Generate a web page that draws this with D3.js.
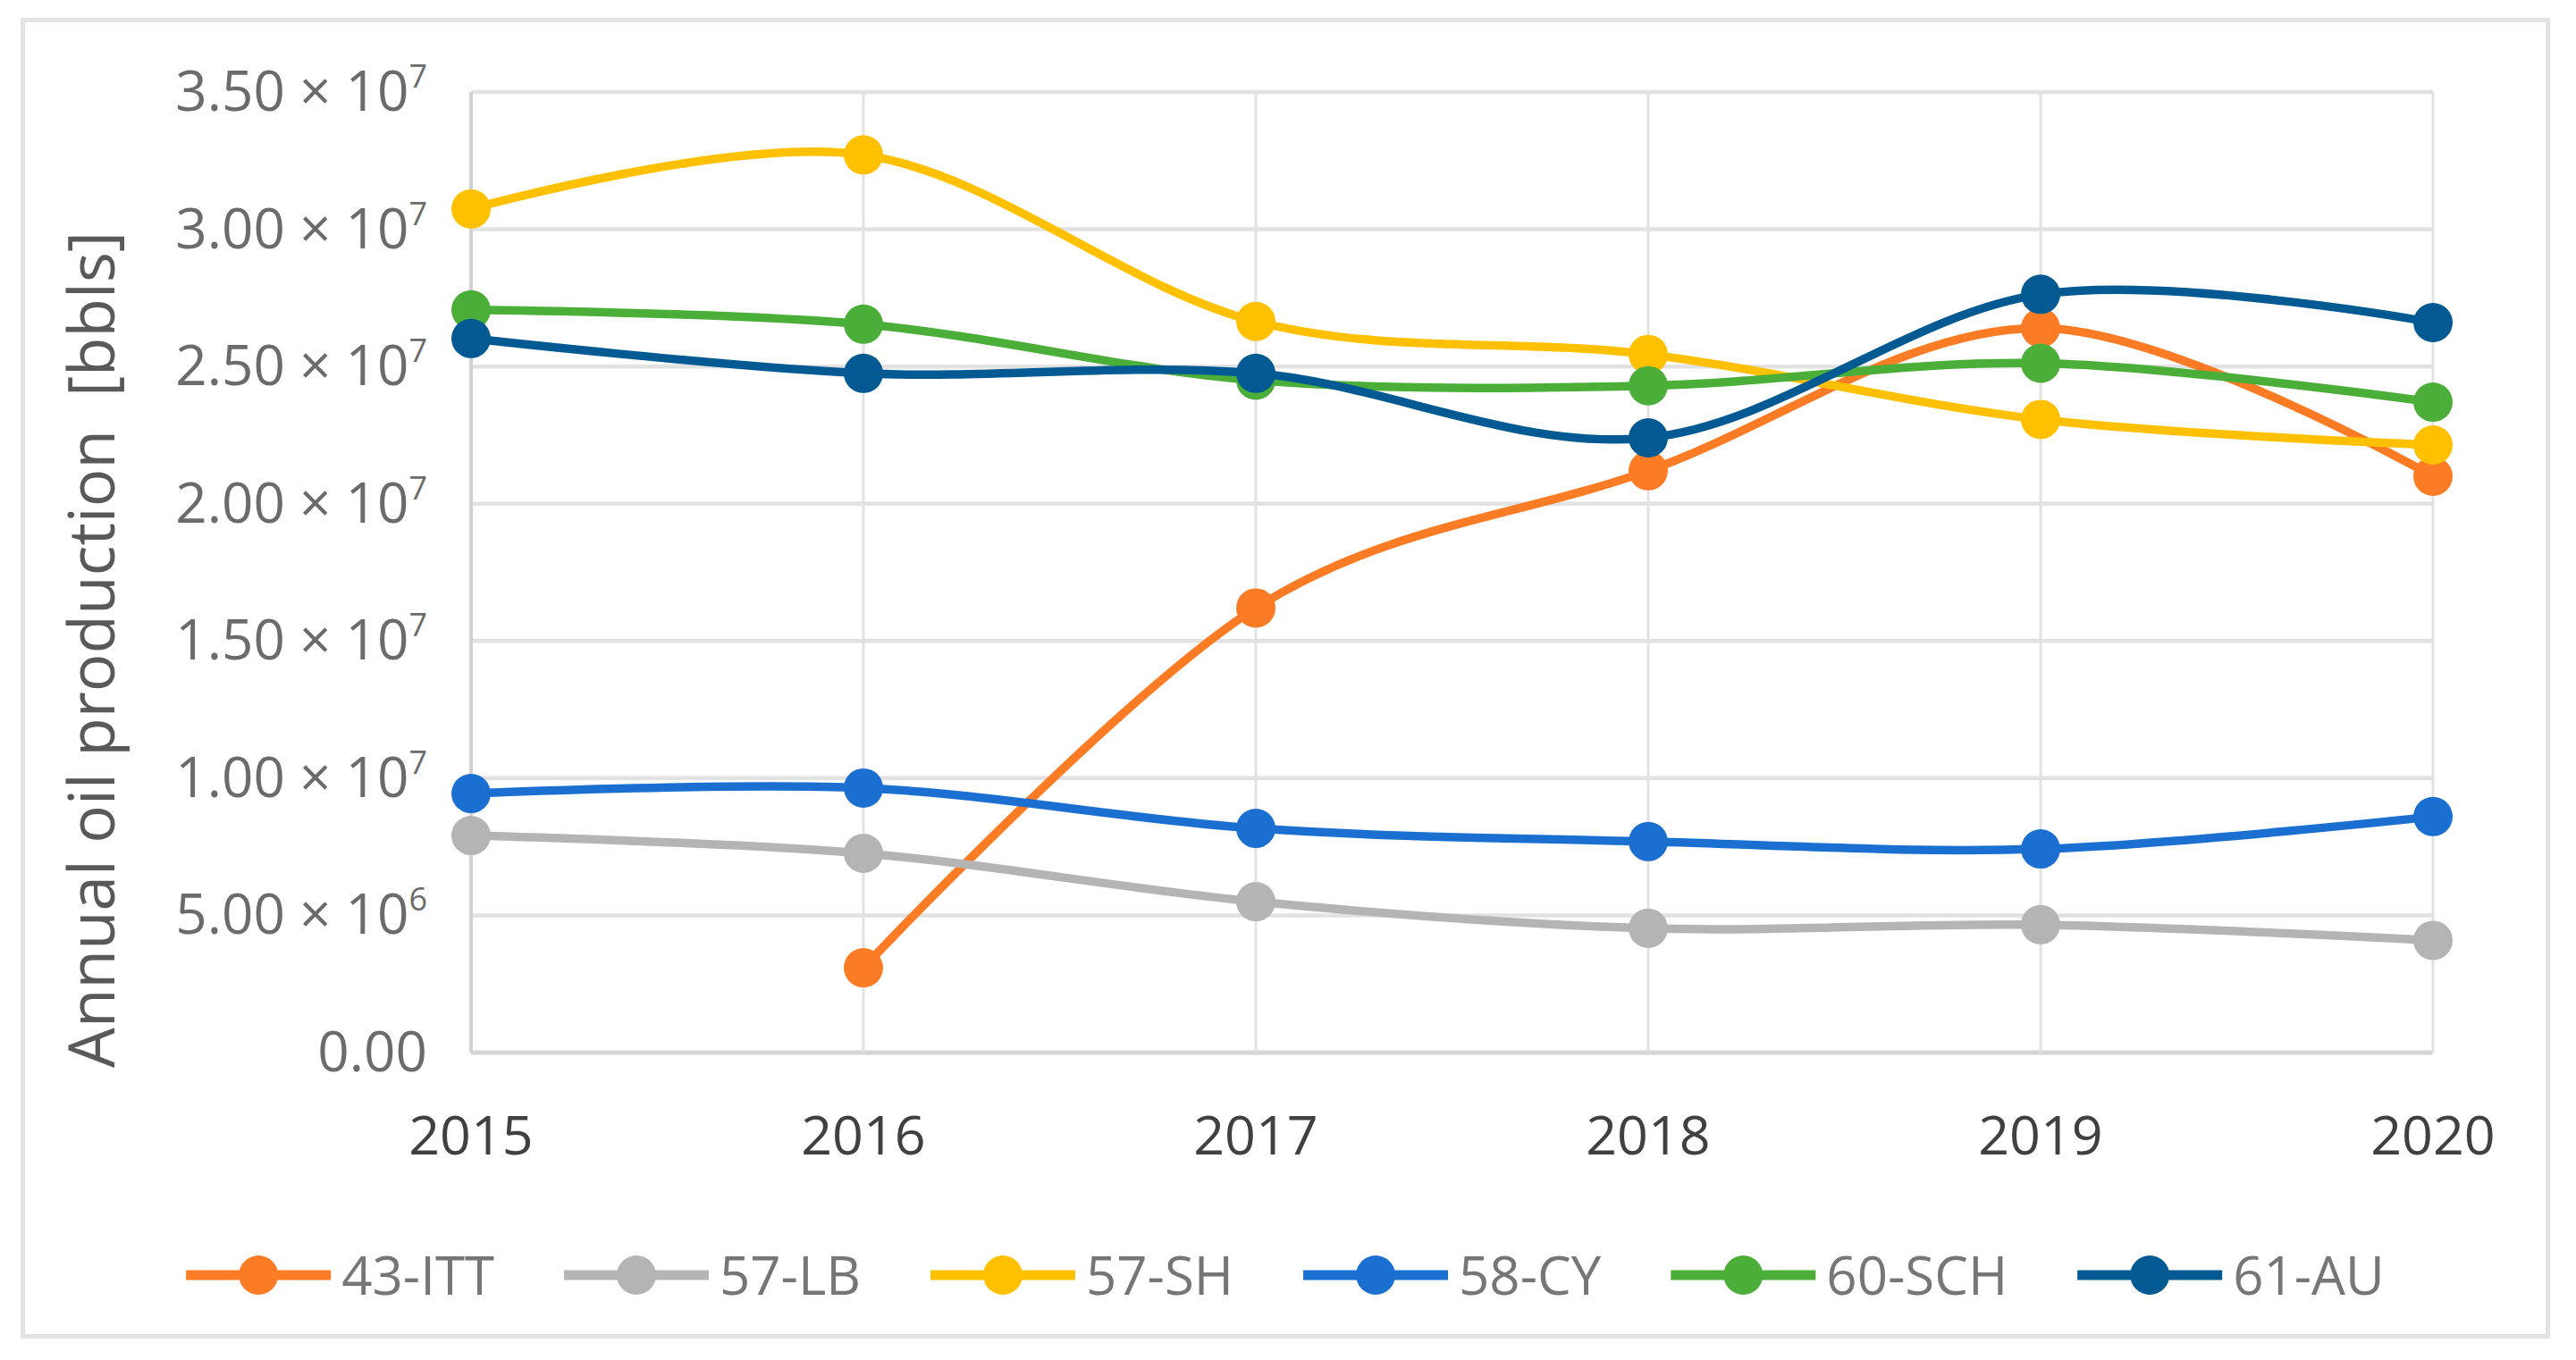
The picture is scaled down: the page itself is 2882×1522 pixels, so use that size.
<!DOCTYPE html>
<html>
<head>
<meta charset="utf-8">
<script src="https://cdn.jsdelivr.net/npm/d3@7"></script>
<style>
  body { margin: 0; background: #fff; }
  svg { display: block; font-family: "Open Sans", sans-serif; }
</style>
</head>
<body>
<svg width="2882" height="1522"></svg>
<script>
const years = [2015, 2016, 2017, 2018, 2019, 2020];
const yTicks = [0, 5e6, 1e7, 1.5e7, 2e7, 2.5e7, 3e7, 3.5e7];

const seriesNames = ['43-ITT', '57-LB', '57-SH', '58-CY', '60-SCH', '61-AU'];
const seriesColors = ['#fb7c24', '#b4b4b4', '#ffc000', '#1b6fd0', '#4aae38', '#035a92'];

const itt43 = [null, 3.09e6, 1.62e7, 2.12e7, 2.64e7, 2.10e7];
const lb57 = [7.91e6, 7.26e6, 5.50e6, 4.53e6, 4.66e6, 4.09e6];
const sh57 = [3.074e7, 3.271e7, 2.664e7, 2.544e7, 2.307e7, 2.214e7];
const cy58 = [9.44e6, 9.64e6, 8.17e6, 7.69e6, 7.42e6, 8.60e6];
const sch60 = [2.706e7, 2.654e7, 2.45e7, 2.43e7, 2.512e7, 2.37e7];
const au61 = [2.602e7, 2.475e7, 2.475e7, 2.24e7, 2.763e7, 2.66e7];

const seriesValues = [itt43, lb57, sh57, cy58, sch60, au61];

const plotL = 527, plotR = 2722, plotT = 103, plotB = 1178;
const svg = d3.select('svg');

// outer frame
svg.append('rect')
    .attr('x', 25.5).attr('y', 22.5)
    .attr('width', 2825).attr('height', 1473)
    .attr('fill', '#fff')
    .attr('stroke', '#e3e3e3')
    .attr('stroke-width', 5);

const x = d3.scalePoint().domain(years).range([plotL, plotR]);
const y = d3.scaleLinear().domain([0, 3.5e7]).range([plotB, plotT]);

const g = svg.append('g');

// grid
g.selectAll('.hgrid').data(yTicks)
  .enter().append('line')
    .attr('x1', plotL).attr('x2', plotR)
    .attr('y1', d => y(d)).attr('y2', d => y(d))
    .attr('stroke', d => d === 0 ? '#d6d6d6' : '#e2e2e2')
    .attr('stroke-width', d => d === 0 ? 5 : 4.5);

g.selectAll('.vgrid').data(years)
  .enter().append('line')
    .attr('x1', d => x(d)).attr('x2', d => x(d))
    .attr('y1', plotT).attr('y2', plotB)
    .attr('stroke', (d, i) => i === 0 ? '#d2d2d2' : '#e2e2e2')
    .attr('stroke-width', (d, i) => i === 0 ? 4 : 3);

// y tick labels
const yLab = g.selectAll('.ylab').data(yTicks)
  .enter().append('text')
    .attr('x', 478)
    .attr('y', d => y(d) + 21)
    .attr('text-anchor', 'end')
    .attr('fill', '#6b6b6b')
    .attr('font-size', 62);

yLab.each(function(d) {
  const t = d3.select(this);
  if (d === 0) { t.text('0.00'); return; }
  const e = Math.floor(Math.log10(d));
  t.append('tspan').text((d / Math.pow(10, e)).toFixed(2) + ' \u00d7 10');
  t.append('tspan').attr('dy', -26).attr('font-size', 36).text(e);
});

// x tick labels
g.selectAll('.xlab').data(years)
  .enter().append('text')
    .attr('x', d => x(d))
    .attr('y', 1292)
    .attr('text-anchor', 'middle')
    .attr('fill', '#404040')
    .attr('font-size', 61)
    .text(d => d);

// y title
svg.append('text')
    .attr('transform', 'translate(128,727) rotate(-90)')
    .attr('text-anchor', 'middle')
    .attr('fill', '#595959')
    .attr('font-size', 71)
    .style('white-space', 'pre')
    .text('Annual oil production  [bbls]');

// series
const line = d3.line()
    .defined(d => d.v !== null)
    .x(d => x(d.year))
    .y(d => y(d.v))
    .curve(d3.curveCardinal.tension(0));

seriesNames.forEach((name, i) => {
  const pts = years.map((yr, j) => ({ year: yr, v: seriesValues[i][j] }));
  const sg = g.append('g').attr('class', 'series');
  sg.append('path')
      .attr('d', line(pts))
      .attr('fill', 'none')
      .attr('stroke', seriesColors[i])
      .attr('stroke-width', 9.5)
      .attr('stroke-linecap', 'round');
  sg.selectAll('circle').data(pts.filter(d => d.v !== null))
    .enter().append('circle')
      .attr('cx', d => x(d.year))
      .attr('cy', d => y(d.v))
      .attr('r', 22)
      .attr('fill', seriesColors[i]);
});

// legend
const legY = 1427, lineW = 162, gapText = 12, gapItem = 78;
const leg = svg.append('g');
const items = seriesNames.map((name, i) => {
  const it = leg.append('g');
  it.append('line')
      .attr('x1', 0).attr('x2', lineW)
      .attr('y1', legY).attr('y2', legY)
      .attr('stroke', seriesColors[i])
      .attr('stroke-width', 11);
  it.append('circle')
      .attr('cx', lineW / 2).attr('cy', legY)
      .attr('r', 22)
      .attr('fill', seriesColors[i]);
  const t = it.append('text')
      .attr('x', lineW + gapText)
      .attr('y', legY + 22)
      .attr('fill', '#767676')
      .attr('font-size', 60)
      .text(name);
  return { g: it, w: lineW + gapText + t.node().getComputedTextLength() };
});
const total = d3.sum(items, d => d.w) + gapItem * (items.length - 1);
let cx = 1438 - total / 2;
items.forEach(d => {
  d.g.attr('transform', `translate(${cx},0)`);
  cx += d.w + gapItem;
});
</script>
</body>
</html>
